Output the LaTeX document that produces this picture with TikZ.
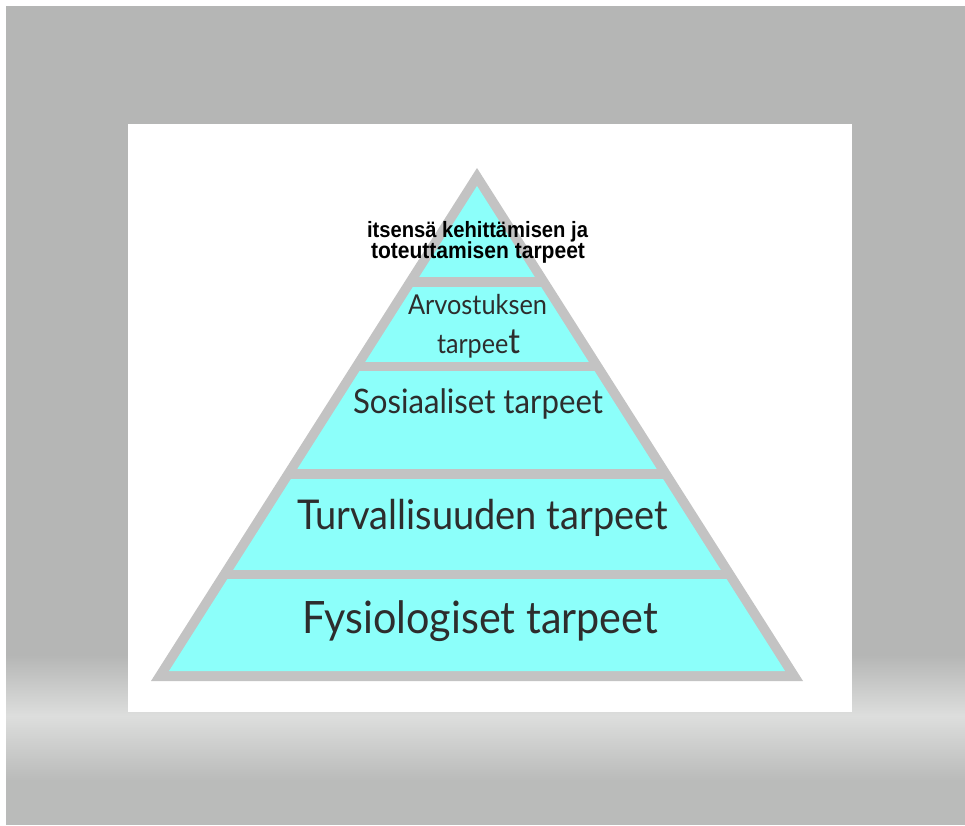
\documentclass[tikz,border=0pt]{standalone}
\usepackage{fontspec}
\usepackage{graphicx}
\setmainfont{Lato}
\newfontfamily\headfont{Liberation Sans}
\definecolor{bgGray}{RGB}{181,182,181}
\definecolor{bgLight}{RGB}{221,222,221}
\definecolor{bgMid}{RGB}{186,187,186}
\definecolor{pyrGray}{RGB}{195,195,195}
\definecolor{pyrCyan}{RGB}{140,255,250}
\definecolor{txtDark}{RGB}{45,45,45}
\newcommand\fitw[2]{\resizebox{#1}{!}{\scalebox{1}[1.08]{#2}}}
\newcommand\fitt[2]{\resizebox{#1}{!}{\scalebox{1}[1.1]{#2}}}
\begin{document}
\begin{tikzpicture}[x=1pt,y=-1pt,
  lbl/.style={inner sep=0pt, anchor=base, text=txtDark, font=\fontsize{30}{36}\selectfont},
  toplbl/.style={inner sep=0pt, anchor=base, text=black, font=\headfont\bfseries\fontsize{20}{22}\selectfont}]
\useasboundingbox (0,0) rectangle (965,825);
\fill[white] (0,0) rectangle (965,825);
\fill[bgGray] (6,6) rectangle (965,825);
\shade[top color=bgGray, bottom color=bgLight] (6,655) rectangle (965,716);
\shade[top color=bgLight, bottom color=bgMid] (6,716) rectangle (965,780);
\fill[bgMid] (6,780) rectangle (965,825);
% white sheet
\fill[white] (128,124) rectangle (852,712);
% pyramid
\fill[pyrGray] (477,168) -- (151,681) -- (803,681) -- cycle;
\begin{scope}
  \clip (477,186) -- (169,671) -- (785,671) -- cycle;
  \fill[pyrCyan] (100,180) rectangle (850,277);
  \fill[pyrCyan] (100,287) rectangle (850,362);
  \fill[pyrCyan] (100,371) rectangle (850,469);
  \fill[pyrCyan] (100,479) rectangle (850,570);
  \fill[pyrCyan] (100,579) rectangle (850,680);
\end{scope}
% labels
\node[toplbl] (top1) at (477.5,237.5) {\fitt{221pt}{itsensä kehittämisen ja}};
\node[toplbl] (top2) at (478,258.5) {\fitt{214pt}{toteuttamisen tarpeet}};
\node[lbl] (arv1) at (477.5,314) {\fitw{139pt}{Arvostuksen}};
\node[lbl] (arv2) at (478.5,353) {\fitw{83pt}{tarpee\scalebox{1.3}{t}}};
\node[lbl] (sos) at (478,413) {\fitw{250pt}{Sosiaaliset tarpeet}};
\node[lbl] (tur) at (482.5,529) {\fitw{371pt}{Turvallisuuden tarpeet}};
\node[lbl] (fys) at (480,633) {\fitw{356pt}{Fysiologiset tarpeet}};
\end{tikzpicture}
\end{document}
